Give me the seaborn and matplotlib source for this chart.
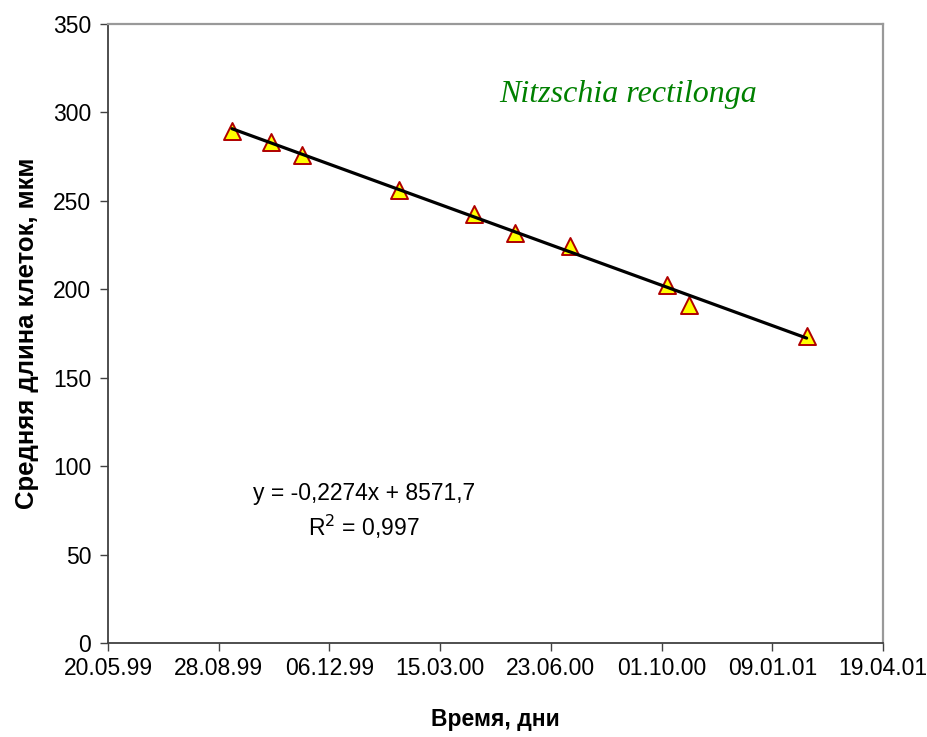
import matplotlib
matplotlib.use("Agg")
import matplotlib.pyplot as plt
import seaborn as sns
import numpy as np
import pandas as pd

# Excel serial dates (days) and mean cell length
days = [36412, 36447, 36475, 36563, 36631, 36668, 36717, 36805, 36825, 36931]
length_um = [289.6, 283.3, 276.1, 256.1, 242.6, 231.6, 224.6, 202.7, 190.9, 173.5]
x_ticks = [36300, 36400, 36500, 36600, 36700, 36800, 36900, 37000]
x_tick_labels = ["20.05.99", "28.08.99", "06.12.99", "15.03.00",
                 "23.06.00", "01.10.00", "09.01.01", "19.04.01"]
y_ticks = [0, 50, 100, 150, 200, 250, 300, 350]
species = "Nitzschia rectilonga"
equation = "y = -0,2274x + 8571,7"
r2_text = "R$^2$ = 0,997"

df = pd.DataFrame({"day": days, "length": length_um})

sns.set_style("ticks")
plt.rcParams["font.family"] = ["Liberation Sans", "DejaVu Sans"]
plt.rcParams["text.color"] = "black"
plt.rcParams["axes.labelcolor"] = "black"
plt.rcParams["xtick.color"] = "black"
plt.rcParams["ytick.color"] = "black"

fig = plt.figure(figsize=(9.28, 7.37), dpi=100)
ax = fig.add_axes([108 / 928, 1 - 643 / 737, (883 - 108) / 928, (643 - 24) / 737])

sns.regplot(data=df, x="day", y="length", ax=ax, ci=None, marker="^",
            scatter_kws=dict(s=150, color="#FFFF00", edgecolors="#B00000",
                             linewidths=1.4, alpha=1, zorder=2),
            line_kws=dict(color="black", lw=2.3, zorder=3))

ax.set_xlim(x_ticks[0], x_ticks[-1])
ax.set_ylim(y_ticks[0], y_ticks[-1])
ax.set_xticks(x_ticks)
ax.set_xticklabels(x_tick_labels)
ax.set_yticks(y_ticks)
ax.tick_params(axis="both", labelsize=16.5, length=6, width=1, color="#404040",
               labelcolor="black", direction="out")
ax.tick_params(axis="x", pad=4)
ax.tick_params(axis="y", pad=6)

for s in ["left", "bottom"]:
    ax.spines[s].set_color("#404040")
    ax.spines[s].set_linewidth(1.3)
for s in ["top", "right"]:
    ax.spines[s].set_visible(True)
    ax.spines[s].set_color("#999999")
    ax.spines[s].set_linewidth(1.6)

ax.set_xlabel("Время, дни", fontsize=16.5, fontweight="bold", labelpad=20,
              color="black")
ax.set_ylabel("Средняя длина клеток, мкм", fontsize=18.5, fontweight="bold",
              labelpad=10, color="black")

ax.text(36531, 84.5, equation, ha="center", va="center", fontsize=16.5)
ax.text(36531, 65.5, r2_text, ha="center", va="center", fontsize=16.5)
ax.text(36770, 310, species, ha="center", va="center", fontsize=23,
        style="italic", color="#008000", family=["Liberation Serif"])

fig.savefig("out.png", dpi=100)
